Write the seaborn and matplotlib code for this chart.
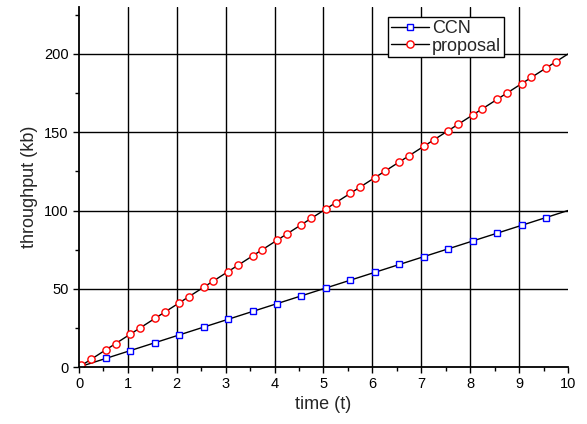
import matplotlib
matplotlib.use('Agg')
import matplotlib.pyplot as plt
import seaborn as sns
import pandas as pd

# marker samples
ccn_time = [0.55, 1.05, 1.55, 2.05, 2.55, 3.05, 3.55, 4.05, 4.55, 5.05,
            5.55, 6.05, 6.55, 7.05, 7.55, 8.05, 8.55, 9.05, 9.55]
ccn_kb = [5.5, 10.5, 15.5, 20.5, 25.5, 30.5, 35.5, 40.5, 45.5, 50.5,
          55.5, 60.5, 65.5, 70.5, 75.5, 80.5, 85.5, 90.5, 95.5]

prop_time = [0.05, 0.25, 0.55, 0.75, 1.05, 1.25, 1.55, 1.75, 2.05, 2.25,
             2.55, 2.75, 3.05, 3.25, 3.55, 3.75, 4.05, 4.25, 4.55, 4.75,
             5.05, 5.25, 5.55, 5.75, 6.05, 6.25, 6.55, 6.75, 7.05, 7.25,
             7.55, 7.75, 8.05, 8.25, 8.55, 8.75, 9.05, 9.25, 9.55, 9.75]
prop_kb = [1, 5, 11, 15, 21, 25, 31, 35, 41, 45,
           51, 55, 61, 65, 71, 75, 81, 85, 91, 95,
           101, 105, 111, 115, 121, 125, 131, 135, 141, 145,
           151, 155, 161, 165, 171, 175, 181, 185, 191, 195]

# line end points (line runs from origin to right edge)
ccn_start, ccn_end = (0, 0), (10, 100)
prop_start, prop_end = (0, 0), (10, 200)

sns.set_style('ticks')
plt.rcParams['font.family'] = ['Liberation Sans', 'DejaVu Sans']

fig = plt.figure(figsize=(5.87, 4.24), dpi=100)
ax = fig.add_axes([0.1346, 0.1344, 0.8330, 0.8490])

ccn = pd.DataFrame({
    'time': [ccn_start[0]] + ccn_time + [ccn_end[0]],
    'kb': [ccn_start[1]] + ccn_kb + [ccn_end[1]],
})
prop = pd.DataFrame({
    'time': [prop_start[0]] + prop_time + [prop_end[0]],
    'kb': [prop_start[1]] + prop_kb + [prop_end[1]],
})

sns.lineplot(data=ccn, x='time', y='kb', ax=ax, color='black', lw=1,
             marker='s', markersize=4.5, mfc='white', mec='blue', mew=1,
             markevery=slice(1, -1), label='CCN', sort=False)
sns.lineplot(data=prop, x='time', y='kb', ax=ax, color='black', lw=1,
             marker='o', markersize=5.2, mfc='white', mec='red', mew=1,
             markevery=slice(1, -1), label='proposal', sort=False)

ax.set_xlim(0, 10)
ax.set_ylim(0, 230)
ax.set_xticks(range(0, 11))
ax.set_xticks([x + 0.5 for x in range(10)], minor=True)
ax.set_yticks([0, 50, 100, 150, 200])
ax.set_yticks([25, 75, 125, 175, 225], minor=True)

ax.grid(True, which='major', color='black', lw=1)
ax.xaxis.get_major_ticks()[-1].gridline.set_visible(False)
ax.xaxis.get_major_ticks()[0].gridline.set_visible(False)
ax.yaxis.get_major_ticks()[0].gridline.set_visible(False)

sns.despine(ax=ax)
for s in ['left', 'bottom']:
    ax.spines[s].set_color('black')
    ax.spines[s].set_linewidth(1.3)
ax.tick_params(which='major', direction='out', length=4, width=1,
               colors='black', labelsize=10.5)
ax.tick_params(which='minor', direction='out', length=3, width=1,
               colors='black')

ax.set_xlabel('time (t)', fontsize=13, labelpad=3)
ax.set_ylabel('throughput (kb)', fontsize=13, labelpad=4)

leg = ax.legend(loc='upper left', bbox_to_anchor=(0.632, 0.972), fontsize=13,
                frameon=True, fancybox=False, framealpha=1,
                borderpad=0.15, handlelength=2.1, labelspacing=0.05,
                handletextpad=0.2, borderaxespad=0)
leg.get_frame().set_edgecolor('black')
leg.get_frame().set_linewidth(1)

plt.savefig('out.png', dpi=100)
